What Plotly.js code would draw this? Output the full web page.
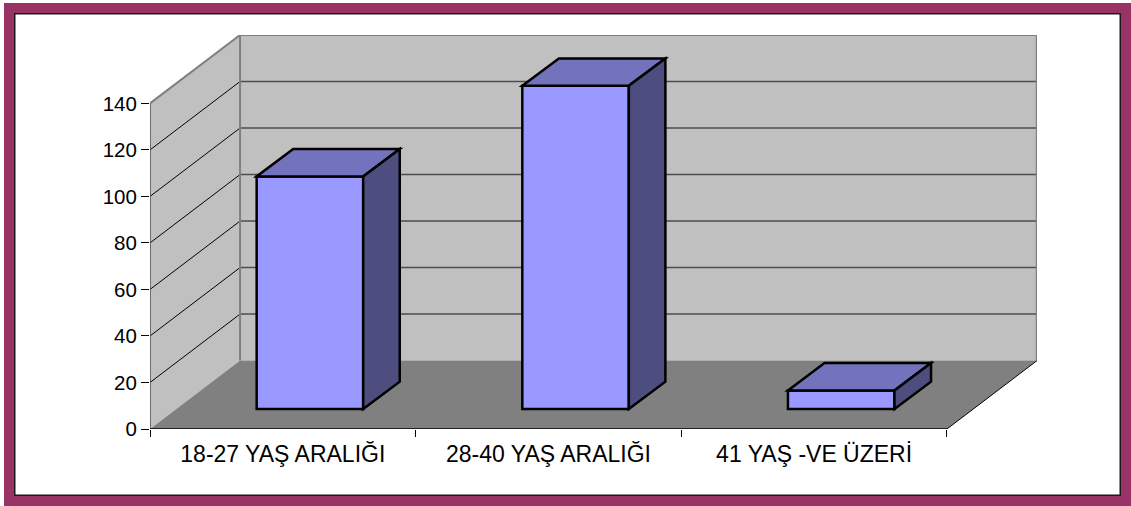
<!DOCTYPE html>
<html>
<head>
<meta charset="utf-8">
<script src="https://cdn.plot.ly/plotly-3.0.1.min.js"></script>
<style>
  html, body { margin: 0; padding: 0; background: #ffffff; }
  #wrap { position: relative; width: 1131px; height: 506px; overflow: hidden; }
  #chart { position: absolute; left: 0; top: 0; width: 1131px; height: 506px; }
  #frame { position: absolute; left: 4px; top: 3px; width: 1127px; height: 503px;
           box-sizing: border-box; border: 10px solid #993366;
           box-shadow: inset 0 0 0 1.5px #1a1a1a; pointer-events: none; }
</style>
</head>
<body>
<div id="wrap">
  <div id="chart"></div>
  <div id="frame"></div>
</div>
<script>
// ---- data ----
const categories = ['18-27 YAŞ ARALIĞI', '28-40 YAŞ ARALIĞI', '41 YAŞ -VE ÜZERİ'];
const values = [100, 139, 8];
const yTickVals = [0, 20, 40, 60, 80, 100, 120, 140];
const yTickText = ['0', '20', '40', '60', '80', '100', '120', '140'];

// ---- 3D geometry (in axis units) ----
const yMax = 140;
const DX = 0.339;   // depth of the box, category units
const DY = 29.4;    // depth of the box, value units
const FDX = 0.102;  // bar front plane offset
const FDY = 8.6;
const BW = 0.401;   // bar width
const BDX = 0.1376; // bar depth
const BDY = 11.74;

const x0 = -0.5, x1 = categories.length - 0.5;
const shapes = [];
function poly(pts, fill, lineColor, lineWidth, layer) {
  const d = 'M ' + pts.map(p => p[0] + ',' + p[1]).join(' L ') + ' Z';
  shapes.push({type: 'path', xref: 'x', yref: 'y', path: d, fillcolor: fill,
               line: {color: lineColor, width: lineWidth}, layer: layer});
}
function seg(a, b, color, width, layer) {
  shapes.push({type: 'line', xref: 'x', yref: 'y', x0: a[0], y0: a[1], x1: b[0], y1: b[1],
               line: {color: color, width: width}, layer: layer});
}

// back wall
poly([[x0 + DX, DY], [x1 + DX, DY], [x1 + DX, yMax + DY], [x0 + DX, yMax + DY]], '#c0c0c0', 'rgba(0,0,0,0)', 0, 'below');
// left wall
poly([[x0, 0], [x0 + DX, DY], [x0 + DX, yMax + DY], [x0, yMax]], '#c0c0c0', 'rgba(0,0,0,0)', 0, 'below');
// gridlines
yTickVals.forEach(v => {
  if (v > 0 && v < yMax) {
    seg([x0 + DX, v + DY], [x1 + DX, v + DY], '#4d4d4d', 1.5, 'below');
    seg([x0, v], [x0 + DX, v + DY], '#000000', 1, 'below');
  }
});
// floor
poly([[x0, 0], [x1, 0], [x1 + DX, DY], [x0 + DX, DY]], '#808080', 'rgba(0,0,0,0)', 0, 'below');
// wall borders
seg([x0 + DX, yMax + DY], [x1 + DX, yMax + DY], '#808080', 2, 'below');
seg([x0 + DX, DY], [x0 + DX, yMax + DY], '#808080', 2, 'below');
seg([x1 + DX, DY], [x1 + DX, yMax + DY], '#808080', 2.5, 'below');
seg([x0, yMax], [x0 + DX, yMax + DY], '#808080', 2, 'below');
seg([x0, 0], [x0, yMax], '#555555', 1.5, 'below');
// floor front and right edges
seg([x0, 0], [x1, 0], '#000000', 1.5, 'below');
seg([x1, 0], [x1 + DX, DY], '#000000', 1, 'below');

// bar top and side faces
values.forEach((v, i) => {
  const L = i + FDX - BW / 2, R = i + FDX + BW / 2;
  const top = FDY + v;
  poly([[L, top], [R, top], [R + BDX, top + BDY], [L + BDX, top + BDY]], '#7373bd', '#000000', 2.5, 'above');
  poly([[R, FDY], [R + BDX, FDY + BDY], [R + BDX, top + BDY], [R, top]], '#4d4d7f', '#000000', 2.5, 'above');
});

const trace = {
  type: 'bar',
  x: values.map((v, i) => i + FDX),
  y: values,
  base: values.map(() => FDY),
  width: BW,
  marker: {color: '#9999ff', line: {color: '#000000', width: 2.5}},
  hoverinfo: 'skip'
};

const layout = {
  width: 1131, height: 506,
  margin: {l: 150, r: 94, t: 35, b: 77},
  paper_bgcolor: '#ffffff', plot_bgcolor: 'rgba(0,0,0,0)',
  showlegend: false,
  font: {family: '"Liberation Sans", Arial, sans-serif', color: '#000000'},
  xaxis: {
    range: [x0, x1 + DX], fixedrange: true,
    tickmode: 'array', tickvals: categories.map((c, i) => i), ticktext: categories,
    ticks: '', showgrid: false, zeroline: false, showline: false,
    ticklabelstandoff: 9,
    tickfont: {size: 23, family: '"Liberation Sans", Arial, sans-serif', color: '#000'},
    minor: {tickmode: 'linear', tick0: -0.5, dtick: 1, ticks: 'outside', ticklen: 7,
            tickcolor: '#000000', tickwidth: 1, showgrid: false}
  },
  yaxis: {
    range: [0, yMax + DY], fixedrange: true,
    tickmode: 'array', tickvals: yTickVals, ticktext: yTickText,
    ticks: 'outside', ticklen: 8, tickcolor: '#000000', tickwidth: 1,
    showgrid: false, zeroline: false, showline: false,
    tickfont: {size: 20.5, family: '"Liberation Sans", Arial, sans-serif', color: '#000'}
  },
  shapes: shapes
};

Plotly.newPlot('chart', [trace], layout, {staticPlot: true, displayModeBar: false});
</script>
</body>
</html>
